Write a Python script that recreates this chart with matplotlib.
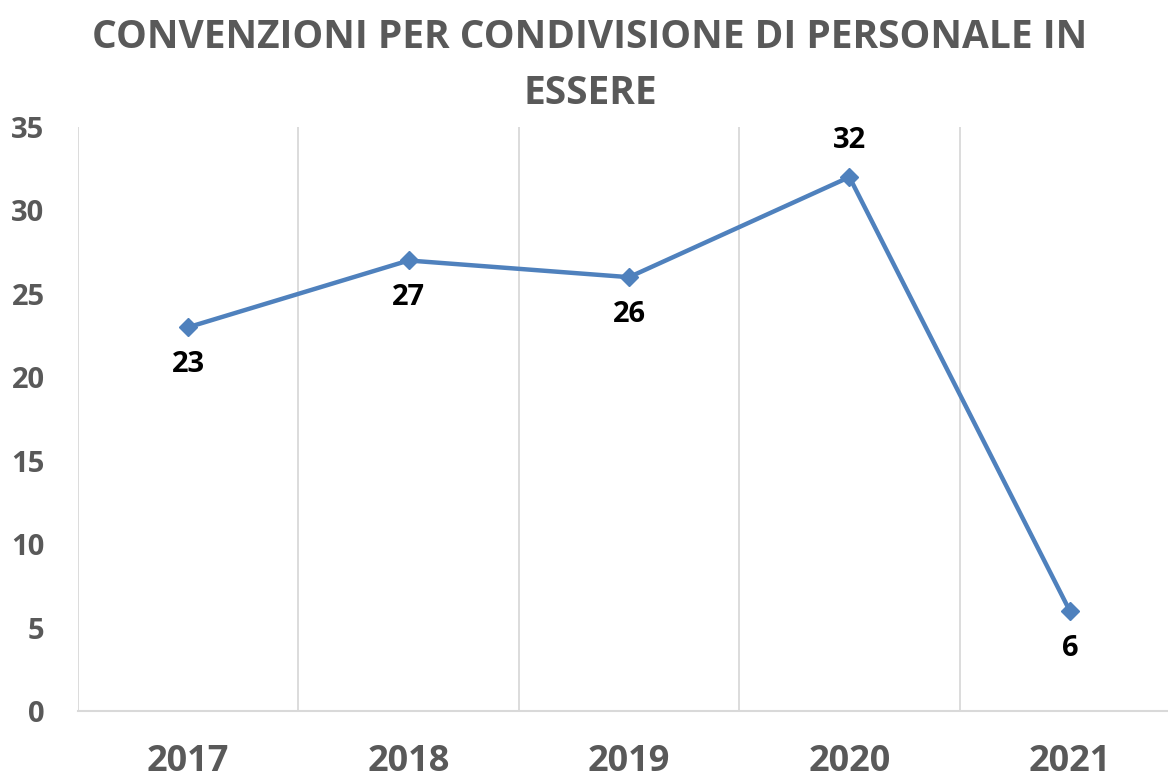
import matplotlib.pyplot as plt

# Data
years = ["2017", "2018", "2019", "2020", "2021"]
convenzioni = [23, 27, 26, 32, 6]
label_above = [False, False, False, True, False]

title = "CONVENZIONI PER CONDIVISIONE DI PERSONALE IN\nESSERE"

blue = "#4F81BD"
gray = "#595959"
grid = "#D9D9D9"

fig = plt.figure(figsize=(11.68, 7.83), dpi=100)
ax = fig.add_axes([78 / 1168, 72 / 783, 1102 / 1168, 584 / 783])

x = list(range(len(years)))
ax.plot(x, convenzioni, color=blue, lw=3.2, marker="D", markersize=9,
        markeredgecolor=blue, markerfacecolor=blue, zorder=3)

for xi, v, up in zip(x, convenzioni, label_above):
    ax.annotate(str(v), (xi, v), xytext=(0, 26 if up else -27),
                textcoords="offset points", ha="center", va="center",
                fontsize=21, fontweight="bold", family="Open Sans", color="black")

ax.set_xlim(-0.5, len(years) - 0.5)
ax.set_ylim(0, 35)
ax.set_yticks(range(0, 36, 5))
ax.set_xticks(x)
ax.set_xticklabels(years)

# vertical gridlines at category boundaries
for b in [i + 0.5 for i in range(-1, len(years))]:
    ax.axvline(b, color=grid, lw=1.3, zorder=1)

for s in ["top", "right", "left"]:
    ax.spines[s].set_visible(False)
ax.spines["bottom"].set_color(grid)
ax.spines["bottom"].set_linewidth(1.5)

ax.tick_params(axis="x", length=0, pad=24, labelsize=26, labelcolor=gray)
ax.tick_params(axis="y", length=0, pad=24, labelsize=21, labelcolor=gray)
for lab in ax.get_xticklabels():
    lab.set_fontweight("bold")
    lab.set_family("Open Sans")
for lab in ax.get_yticklabels():
    lab.set_fontweight("bold")
    lab.set_family("Open Sans")

fig.text(0.505, 0.977, title, ha="center", va="top", fontsize=28,
         fontweight="bold", family="Open Sans", color=gray, linespacing=1.55)

fig.savefig("out.png", dpi=100)
